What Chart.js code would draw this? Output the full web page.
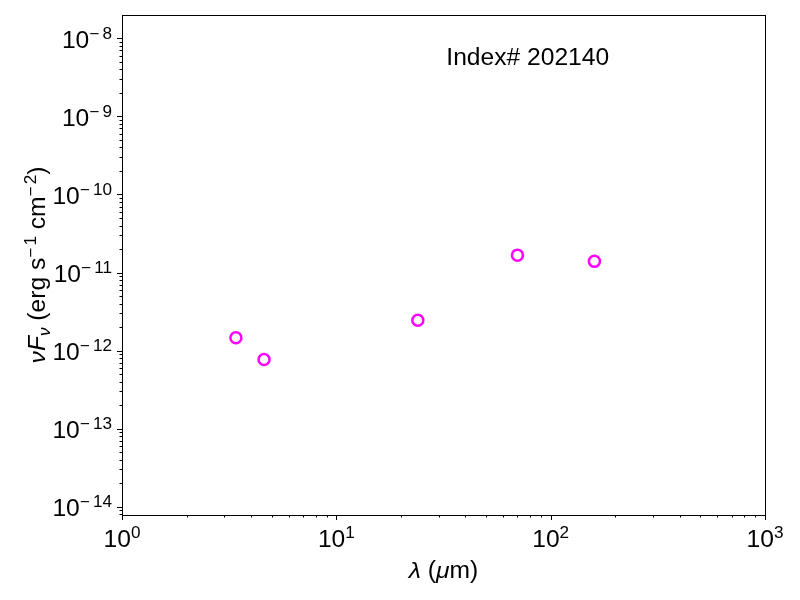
<!DOCTYPE html>
<html>
<head>
<meta charset="utf-8">
<script src="https://cdn.jsdelivr.net/npm/chart.js@4.4.1/dist/chart.umd.min.js"></script>
<style>
  body { margin: 0; background: #fff; }
  #wrap { width: 800px; height: 600px; }
</style>
</head>
<body>
<div id="wrap"><canvas id="sed" width="800" height="600"></canvas></div>
<script>
// photometry points (wavelength in micron, nuFnu in erg/s/cm2)
const wavelengths = [3.4, 4.6, 24, 70, 160];
const fluxes = [1.46e-12, 7.7e-13, 2.44e-12, 1.67e-11, 1.39e-11];

// major tick positions, labels drawn as 10^exp
const xTicks = [1, 10, 100, 1000];
const yTicks = [1e-14, 1e-13, 1e-12, 1e-11, 1e-10, 1e-9, 1e-8];

const sourceLabel = 'Index# 202140';

const FONT = '"Liberation Sans", Arial, Helvetica, sans-serif';
const BIG = 23;
const SMALL = 16;
const SX = 1.07;   // the reference text runs a bit wide

function pieceFont(p) {
  let size = (p.sup || p.sub) ? SMALL : BIG;
  return (p.it ? 'italic ' : '') + size + 'px ' + FONT;
}
function pieceW(ctx, p) {
  ctx.font = pieceFont(p);
  return (ctx.measureText(p.t).width + (p.gap || 0)) * SX;
}
function piecesWidth(ctx, pieces) {
  let w = 0;
  pieces.forEach(p => { w += pieceW(ctx, p); });
  return w;
}
// draws text pieces {t, it, sup, sub, gap} from x on baseline y
function drawPieces(ctx, pieces, x, y) {
  ctx.textAlign = 'left';
  ctx.textBaseline = 'alphabetic';
  pieces.forEach(p => {
    let dy = p.sup ? -9 : (p.sub ? 5 : 0);
    ctx.font = pieceFont(p);
    ctx.save();
    ctx.translate(x, y + dy);
    ctx.scale(SX, 1);
    ctx.fillText(p.t, 0, 0);
    ctx.restore();
    x += pieceW(ctx, p);
  });
}
function powLabel(v) {
  let e = Math.round(Math.log10(v));
  let out = [{t: '10'}];
  if (e < 0) out.push({t: '\u2212', sup: true, gap: 3});
  out.push({t: String(Math.abs(e)), sup: true});
  return out;
}

const framePlugin = {
  id: 'frame',
  afterDraw(chart) {
    const ctx = chart.ctx;
    const a = chart.chartArea;
    const xs = chart.scales.x, ys = chart.scales.y;
    ctx.save();
    ctx.strokeStyle = '#000';
    ctx.fillStyle = '#000';
    ctx.lineWidth = 1;
    ctx.strokeRect(a.left + 0.5, a.top + 0.5, a.right - a.left, a.bottom - a.top);

    // x ticks, outward at bottom
    ctx.beginPath();
    for (let d = 0; d < 3; d++) {
      for (let m = 1; m < 10; m++) {
        let px = Math.round(xs.getPixelForValue(xTicks[d] * m)) + 0.5;
        let len = m === 1 ? 5 : 2.5;
        ctx.moveTo(px, a.bottom);
        ctx.lineTo(px, a.bottom + len);
      }
    }
    let last = Math.round(xs.getPixelForValue(xTicks[3])) + 0.5;
    ctx.moveTo(last, a.bottom); ctx.lineTo(last, a.bottom + 5);

    // y ticks, outward at left
    const yMin = ys.min, yMax = ys.max;
    const decades = [yTicks[0] / 10].concat(yTicks);
    decades.forEach(base => {
      for (let m = 1; m < 10; m++) {
        let v = base * m;
        if (v < yMin || v > yMax) continue;
        let py = Math.round(ys.getPixelForValue(v)) + 0.5;
        let len = m === 1 ? 5 : 2.5;
        ctx.moveTo(a.left, py);
        ctx.lineTo(a.left - len, py);
      }
    });
    ctx.stroke();

    // tick labels
    xTicks.forEach(v => {
      let pcs = powLabel(v);
      let w = piecesWidth(ctx, pcs);
      drawPieces(ctx, pcs, xs.getPixelForValue(v) - w / 2, a.bottom + 32);
    });
    yTicks.forEach(v => {
      let pcs = powLabel(v);
      let w = piecesWidth(ctx, pcs);
      drawPieces(ctx, pcs, a.left - 10 - w, ys.getPixelForValue(v) + 9.5);
    });

    // axis titles
    let xt = [{t: '\u03bb', it: true}, {t: ' ('}, {t: '\u03bc', it: true}, {t: 'm)'}];
    let w = piecesWidth(ctx, xt);
    drawPieces(ctx, xt, (a.left + a.right) / 2 - w / 2, 578);

    let yt = [{t: '\u03bdF', it: true}, {t: '\u03bd', it: true, sub: true}, {t: ' (erg s'},
              {t: '\u2212', sup: true, gap: 2}, {t: '1', sup: true}, {t: ' cm'},
              {t: '\u2212', sup: true, gap: 2}, {t: '2', sup: true}, {t: ')'}];
    w = piecesWidth(ctx, yt);
    ctx.save();
    ctx.translate(45, (a.top + a.bottom) / 2);
    ctx.rotate(-Math.PI / 2);
    drawPieces(ctx, yt, -w / 2, 0);
    ctx.restore();

    // source label
    let sl = [{t: sourceLabel}];
    w = piecesWidth(ctx, sl);
    drawPieces(ctx, sl, a.left + (a.right - a.left) * 0.631 - w / 2, 65);
    ctx.restore();
  }
};

new Chart(document.getElementById('sed'), {
  type: 'scatter',
  data: {
    datasets: [{
      data: wavelengths.map((w, i) => ({x: w, y: fluxes[i]})),
      borderColor: '#ff00ff',
      backgroundColor: 'rgba(0,0,0,0)',
      borderWidth: 2.5,
      pointRadius: 5.5,
      pointHoverRadius: 5.5
    }]
  },
  options: {
    responsive: false,
    animation: false,
    layout: { padding: { left: 122, right: 35, top: 15, bottom: 85 } },
    plugins: { legend: { display: false }, tooltip: { enabled: false } },
    scales: {
      x: { type: 'logarithmic', min: 1, max: 1000, display: false },
      y: { type: 'logarithmic', min: 7.83e-15, max: 1.99e-8, display: false }
    }
  },
  plugins: [framePlugin]
});
</script>
</body>
</html>
